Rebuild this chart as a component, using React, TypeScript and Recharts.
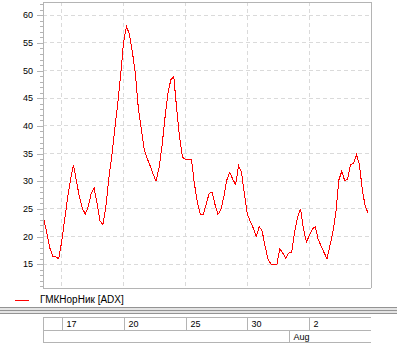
import React from 'react';
import {
    LineChart,
    Line,
    XAxis,
    YAxis,
    CartesianGrid,
    Legend,
    ReferenceLine,
} from 'recharts';

// hourly ADX readings, 7 bars per trading day (first day is partial)
const ADX = [
    23, 20.5, 17.9, 16.4, 16.3, 16, 19.1, 23, 27, 30.3,
    33, 30, 27.2, 25.1, 24.1, 25.4, 27.8, 28.8, 26, 22.8,
    22.2, 25.5, 30.6, 34.6, 39.4, 44, 49.2, 55.2, 58, 56.5,
    53.3, 49.4, 43.2, 39.4, 35.8, 34.1, 32.8, 31.3, 30, 32.4,
    36.2, 41.3, 45.8, 48.3, 49, 43.1, 37.9, 34.3, 34, 34,
    34, 29.6, 26.3, 24, 24, 25.8, 27.8, 28, 25.8, 24,
    24.8, 27.2, 30.2, 31.6, 30.4, 29.4, 32.8, 31.6, 27.6, 24,
    22.7, 21.5, 20, 21.8, 21, 18.2, 15.9, 15, 15, 15,
    17.8, 17, 16.1, 17, 17.1, 20.8, 23.4, 25, 21.4, 19,
    20.2, 21.3, 21.8, 19.5, 18.3, 17.1, 16, 18.4, 20.8, 24.4,
    30.2, 31.8, 30.1, 30.4, 33, 33.2, 34.8, 33, 28.3, 25.4, 24.2,
];

const DAYS = ['16', '17', '18', '19', '20', '23', '24', '25', '26', '27', '30', '31', '1', '2', '3', '6'];
const MONTHS = ['Jul', 'Jul', 'Jul', 'Jul', 'Jul', 'Jul', 'Jul', 'Jul', 'Jul', 'Jul', 'Jul', 'Jul', 'Aug', 'Aug', 'Aug', 'Aug'];
const LABELED_DAYS = ['17', '20', '25', '30', '2'];
const Y_MAJOR = [15, 20, 25, 30, 35, 40, 45, 50, 55, 60];
const SERIES_NAME = 'ГМКНорНик [ADX]';

const BARS_PER_DAY = 7;
const FIRST_DAY_BARS = 6;

const W = 397;
const H = 349;
const Y_MIN = 10.7;
const Y_MAX = 62.4;
const X_MIN = -0.34;
const X_MAX = 110.92;
const FONT = '"Liberation Sans", Arial, sans-serif';
const LINE_COLOR = '#ff0000';
const AXIS = '#b4b4b4';
const GRID = '#dadada';
const TABLE_Y = [317.5, 330.5, 342.5];

// expand days into bars
const rows: { i: number; adx: number; day: string; month: string }[] = [];
{
    let k = 0;
    DAYS.forEach((day, d) => {
        const n = d === 0 ? FIRST_DAY_BARS : BARS_PER_DAY;
        for (let b = 0; b < n && k < ADX.length; b++, k++) {
            rows.push({ i: k, adx: ADX[k], day, month: MONTHS[d] });
        }
    });
}

const dayTicks = LABELED_DAYS.map(d => rows.findIndex(r => r.day === d));
const monthTicks = rows
    .filter((r, idx) => idx > 0 && r.month !== rows[idx - 1].month)
    .map(r => r.i);

const yTicks: number[] = [];
for (let v = Math.ceil(Y_MIN); v <= Math.floor(Y_MAX); v++) yTicks.push(v);

const px = (v: number) => Math.round(v) + 0.5;

const YTick = ({ x, y, payload, side }: any) => {
    const major = payload.value % 5 === 0;
    const len = major ? 6 : 3;
    const dir = side === 'left' ? -1 : 1;
    const yy = px(y);
    return (
        <g>
            <line x1={x} x2={x + dir * len} y1={yy} y2={yy} stroke={AXIS} shapeRendering="crispEdges" />
            {major && (
                <text
                    x={x + dir * (len + (side === 'left' ? 4 : 2))}
                    y={y}
                    dy={3.2}
                    textAnchor={side === 'left' ? 'end' : 'start'}
                    fontSize={9}
                    fontFamily={FONT}
                    fill="#000"
                >
                    {payload.value}
                </text>
            )}
        </g>
    );
};

const DateTick = ({ x, payload }: any) => {
    const i = payload.value;
    const xx = px(x);
    if (monthTicks.includes(i)) {
        return (
            <g>
                <line x1={xx} x2={xx} y1={TABLE_Y[1]} y2={TABLE_Y[2]} stroke={AXIS} shapeRendering="crispEdges" />
                <text x={xx + 4} y={TABLE_Y[1] + 9.5} fontSize={9} fontFamily={FONT} fill="#000">
                    {rows[i].month}
                </text>
            </g>
        );
    }
    return (
        <g>
            <line x1={xx} x2={xx} y1={TABLE_Y[0]} y2={TABLE_Y[1]} stroke={AXIS} shapeRendering="crispEdges" />
            <text x={xx + 4} y={TABLE_Y[0] + 9.5} fontSize={9} fontFamily={FONT} fill="#000">
                {rows[i].day}
            </text>
        </g>
    );
};

const LegendContent = ({ payload }: any) => (
    <div style={{ position: 'relative', width: 200, height: 16 }}>
        {(payload || []).map((entry: any) => (
            <React.Fragment key={entry.value}>
                <div style={{ position: 'absolute', left: 15, top: 8, width: 14, height: 1, background: LINE_COLOR }} />
                <div style={{ position: 'absolute', left: 40, top: 2, fontSize: 10, lineHeight: '12px', color: '#000', fontFamily: FONT, whiteSpace: 'nowrap' }}>
                    {entry.value}
                </div>
            </React.Fragment>
        ))}
    </div>
);

export default function App() {
    const plotLeft = 43;
    const plotRight = W - 26;
    return (
        <div style={{ position: 'absolute', left: 0, top: 0, width: W, height: H, background: '#fff', fontFamily: FONT }}>
            <LineChart width={W} height={H} data={rows} margin={{ top: 2, right: 0, bottom: 0, left: 0 }}>
                <CartesianGrid
                    yAxisId="left"
                    stroke={GRID}
                    strokeDasharray="4 3"
                    horizontalValues={Y_MAJOR}
                    verticalValues={dayTicks}
                    shapeRendering="crispEdges"
                />
                <XAxis
                    dataKey="i"
                    type="number"
                    domain={[X_MIN, X_MAX]}
                    ticks={[...dayTicks, ...monthTicks]}
                    interval={0}
                    height={61}
                    tickSize={0}
                    tickMargin={0}
                    tickLine={false}
                    axisLine={{ stroke: AXIS, shapeRendering: 'crispEdges' }}
                    tick={(p: any) => <DateTick {...p} />}
                />
                <YAxis
                    yAxisId="left"
                    width={plotLeft}
                    type="number"
                    domain={[Y_MIN, Y_MAX]}
                    ticks={yTicks}
                    interval={0}
                    tickSize={0}
                    tickMargin={0}
                    tickLine={false}
                    axisLine={{ stroke: AXIS, shapeRendering: 'crispEdges' }}
                    tick={(p: any) => <YTick {...p} side="left" />}
                />
                <YAxis
                    yAxisId="right"
                    orientation="right"
                    width={W - plotRight}
                    type="number"
                    domain={[Y_MIN, Y_MAX]}
                    ticks={yTicks}
                    interval={0}
                    tickSize={0}
                    tickMargin={0}
                    tickLine={false}
                    axisLine={{ stroke: AXIS, shapeRendering: 'crispEdges' }}
                    tick={(p: any) => <YTick {...p} side="right" />}
                />
                <ReferenceLine yAxisId="left" y={Y_MAX} stroke={AXIS} shapeRendering="crispEdges" />
                <Line
                    yAxisId="left"
                    type="linear"
                    dataKey="adx"
                    name={SERIES_NAME}
                    stroke={LINE_COLOR}
                    strokeWidth={1}
                    dot={false}
                    activeDot={false}
                    isAnimationActive={false}
                    shapeRendering="crispEdges"
                />
                <Legend
                    layout="horizontal"
                    verticalAlign="middle"
                    align="center"
                    content={<LegendContent />}
                    wrapperStyle={{ left: 0, top: 292, width: 200, height: 16 }}
                />
            </LineChart>

            {/* separator and date table frame */}
            <svg width={W} height={H} style={{ position: 'absolute', left: 0, top: 0, pointerEvents: 'none' }}>
                <rect x={0} y={307} width={W} height={7} fill="#e4e4e4" />
                {[307.5, 310.5, 313.5].map(y => (
                    <line key={y} x1={0} x2={W} y1={y} y2={y} stroke="#939393" shapeRendering="crispEdges" />
                ))}
                {TABLE_Y.map(y => (
                    <line key={y} x1={plotLeft} x2={plotRight} y1={y} y2={y} stroke={AXIS} shapeRendering="crispEdges" />
                ))}
                <line x1={plotLeft + 0.5} x2={plotLeft + 0.5} y1={TABLE_Y[0]} y2={TABLE_Y[2]} stroke={AXIS} shapeRendering="crispEdges" />
            </svg>
        </div>
    );
}
